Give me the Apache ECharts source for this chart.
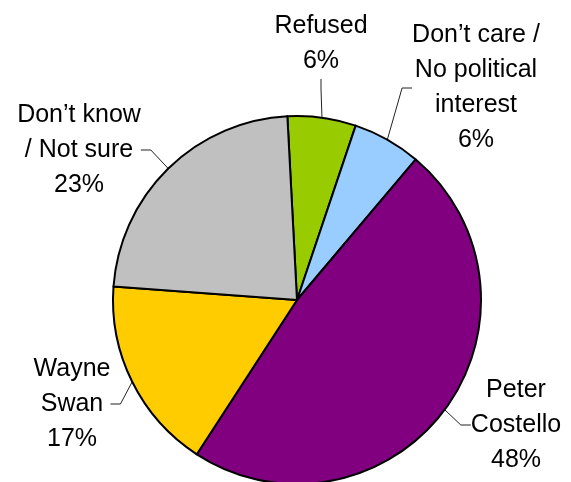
<!DOCTYPE html>
<html>
<head>
<meta charset="utf-8">
<script src="https://cdn.jsdelivr.net/npm/echarts@6/dist/echarts.min.js"></script>
<style>
  html, body { margin: 0; padding: 0; background: #fff; }
  #chart { width: 571px; height: 482px; }
</style>
</head>
<body>
<div id="chart"></div>
<script>
// Survey answers, in clockwise order from the top of the pie
const categories = [
  'Refused',
  'Don\u2019t care /\nNo political\ninterest',
  'Peter\nCostello',
  'Wayne\nSwan',
  'Don\u2019t know\n/ Not sure'
];
const shares = [6, 6, 48, 17, 23];
const sliceColors = ['#99CC00', '#99CCFF', '#800080', '#FFCC00', '#C0C0C0'];

// Where each label block sits (centre of the text block, in px)
const labelSpots = [
  [321, 44],
  [476, 88],
  [516, 425],
  [72, 404],
  [79, 150]
];

const chart = echarts.init(document.getElementById('chart'), null, { renderer: 'canvas' });

chart.setOption({
  animation: false,
  backgroundColor: '#ffffff',
  series: [{
    type: 'pie',
    center: [297, 300],
    radius: 184,
    startAngle: 93,
    clockwise: true,
    avoidLabelOverlap: false,
    data: categories.map((name, i) => ({
      name: name,
      value: shares[i],
      itemStyle: { color: sliceColors[i] }
    })),
    itemStyle: { borderColor: '#000', borderWidth: 2 },
    emphasis: { disabled: true },
    label: {
      show: true,
      position: 'outside',
      formatter: '{b}\n{c}%',
      fontFamily: '"Liberation Sans", Arial, sans-serif',
      fontSize: 25,
      lineHeight: 35,
      color: '#000',
      align: 'center'
    },
    labelLine: {
      show: true,
      length: 10,
      length2: 10,
      smooth: false,
      lineStyle: { color: '#222', width: 1 }
    },
    labelLayout: function (params) {
      const p = labelSpots[params.dataIndex];
      return { x: p[0], y: p[1], align: 'center', verticalAlign: 'middle' };
    }
  }]
});
</script>
</body>
</html>
